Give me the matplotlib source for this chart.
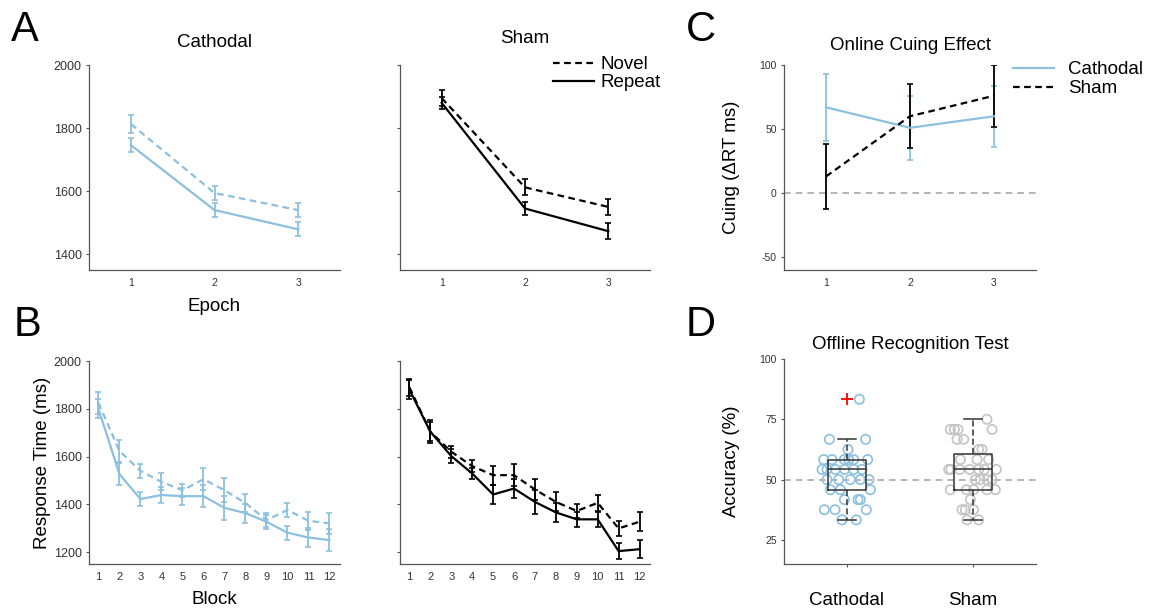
import matplotlib.pyplot as plt
from matplotlib.lines import Line2D

plt.rcParams['font.family'] = ['Liberation Sans', 'DejaVu Sans']
plt.rcParams['axes.unicode_minus'] = False

blue = '#8cc0de'
grey_pt = '#c4c4c4'
ref_grey = '#a8a8a8'
dash = (0, (3, 2))

# Panel A: epoch means (ms) and error
epochs = [1, 2, 3]
cath_epoch_novel = [1813, 1594, 1540]
cath_epoch_novel_err = [28, 22, 22]
cath_epoch_repeat = [1746, 1540, 1479]
cath_epoch_repeat_err = [22, 22, 22]
sham_epoch_novel = [1895, 1612, 1550]
sham_epoch_novel_err = [25, 25, 25]
sham_epoch_repeat = [1880, 1545, 1473]
sham_epoch_repeat_err = [20, 22, 25]

# Panel B: block means (ms) and error
blocks = list(range(1, 13))
cath_block_novel = [1825, 1623, 1540, 1494, 1459, 1505, 1459, 1405, 1334, 1376, 1331, 1320]
cath_block_novel_err = [45, 45, 30, 35, 28, 45, 50, 38, 28, 30, 38, 45]
cath_block_repeat = [1800, 1526, 1422, 1439, 1434, 1434, 1385, 1363, 1327, 1281, 1261, 1250]
cath_block_repeat_err = [40, 45, 30, 35, 35, 45, 50, 40, 30, 30, 40, 45]
sham_block_novel = [1890, 1704, 1620, 1560, 1522, 1522, 1462, 1410, 1372, 1406, 1299, 1327]
sham_block_novel_err = [35, 40, 25, 25, 40, 45, 45, 40, 30, 35, 30, 40]
sham_block_repeat = [1880, 1704, 1602, 1529, 1441, 1466, 1410, 1366, 1337, 1337, 1204, 1212]
sham_block_repeat_err = [40, 48, 28, 25, 40, 40, 50, 40, 30, 30, 35, 38]

# Panel C: cuing effect (ms)
cath_cue = [67, 51, 60]
cath_cue_err = [26, 25, 24]
sham_cue = [13, 60, 76]
sham_cue_err = [25, 25, 24]

# Panel D: recognition accuracy (%) per subject, with horizontal jitter
cath_acc = [83.3, 66.7, 66.7, 62.5,
            58.3, 58.3, 58.3, 58.3, 58.3, 58.3,
            54.2, 54.2, 54.2, 54.2, 54.2, 54.2,
            50, 50, 50, 50, 50,
            45.8, 45.8, 45.8, 41.7, 41.7, 41.7,
            37.5, 37.5, 37.5, 33.3, 33.3]
cath_jitter = [0.098, -0.14, 0.148, 0.008,
               -0.185, -0.119, -0.021, 0.013, 0.053, 0.164,
               -0.198, -0.159, -0.093, -0.019, 0.053, 0.119,
               -0.159, -0.066, 0.026, 0.106, 0.175,
               -0.132, -0.053, 0.185, -0.021, 0.087, 0.106,
               -0.18, -0.095, 0.153, -0.04, 0.074]
sham_acc = [75, 70.8, 70.8, 70.8, 70.8, 66.7, 66.7, 62.5, 62.5,
            58.3, 58.3, 58.3,
            54.2, 54.2, 54.2, 54.2, 54.2, 54.2, 54.2,
            50, 50, 50, 50,
            45.8, 45.8, 45.8, 45.8, 45.8,
            41.7, 37.5, 37.5, 37.5, 33.3, 33.3]
sham_jitter = [0.111, -0.18, -0.148, -0.119, 0.151, -0.127, -0.074, 0.045, 0.071,
               -0.1, 0.032, 0.124,
               -0.193, -0.175, -0.106, -0.026, 0.045, 0.09, 0.185,
               0.019, 0.058, 0.111, 0.151,
               -0.18, -0.053, 0.005, 0.111, 0.177,
               -0.021, -0.087, -0.061, 0.005, -0.048, 0.045]
box_stats = [
    dict(label='Cathodal', med=54.2, q1=45.8, q3=58.3, whislo=33.3, whishi=66.7, fliers=[83.3]),
    dict(label='Sham', med=54.2, q1=45.8, q3=60.5, whislo=33.3, whishi=75, fliers=[]),
]

W, H = 1151, 609
fig = plt.figure(figsize=(W / 100, H / 100), dpi=100)


def add_ax(left, top, right, bottom):
    return fig.add_axes([left / W, 1 - bottom / H, (right - left) / W, (bottom - top) / H])


def style(ax, ylab_size=9, xlab_size=7.5, xtick_len=0):
    for s in ['top', 'right']:
        ax.spines[s].set_visible(False)
    for s in ['left', 'bottom']:
        ax.spines[s].set_color('#555555')
        ax.spines[s].set_linewidth(0.9)
    ax.tick_params(axis='y', direction='out', length=2.2, width=0.8, color='#555555',
                   labelsize=ylab_size, labelcolor='#333333', pad=3)
    ax.tick_params(axis='x', direction='out', length=xtick_len, width=0.8, color='#555555',
                   labelsize=xlab_size, labelcolor='#333333', pad=6)


def eb(ax, x, y, e, color, ls):
    ax.errorbar(x, y, yerr=e, color=color, lw=1.6, ls=ls, elinewidth=1.3,
                capsize=2, capthick=1.2)


# ---- A
axA1 = add_ax(89, 65, 340, 270)
axA2 = add_ax(400, 65, 650, 270)
eb(axA1, epochs, cath_epoch_novel, cath_epoch_novel_err, blue, dash)
eb(axA1, epochs, cath_epoch_repeat, cath_epoch_repeat_err, blue, '-')
eb(axA2, epochs, sham_epoch_novel, sham_epoch_novel_err, 'k', dash)
eb(axA2, epochs, sham_epoch_repeat, sham_epoch_repeat_err, 'k', '-')
for ax in [axA1, axA2]:
    ax.set_xlim(0.5, 3.5)
    ax.set_ylim(1350, 2000)
    ax.set_xticks(epochs)
    ax.set_yticks([1400, 1600, 1800, 2000])
    style(ax)
axA2.set_yticklabels([])
axA1.set_title('Cathodal', fontsize=13.5, pad=13)
axA2.set_title('Sham', fontsize=13.5, pad=16)
axA1.set_xlabel('Epoch', fontsize=13.5, labelpad=7)
handles = [Line2D([], [], color='k', lw=1.6, ls=dash), Line2D([], [], color='k', lw=1.6)]
axA2.legend(handles, ['Novel', 'Repeat'], loc='upper left', bbox_to_anchor=(553 / W, 1 - 56 / H),
            bbox_transform=fig.transFigure, frameon=False, fontsize=13.5, borderpad=0,
            handlelength=2.2, handletextpad=0.35, labelspacing=0.05, borderaxespad=0)

# ---- B
axB1 = add_ax(89, 361, 340, 564)
axB2 = add_ax(400, 361, 650, 564)
eb(axB1, blocks, cath_block_novel, cath_block_novel_err, blue, dash)
eb(axB1, blocks, cath_block_repeat, cath_block_repeat_err, blue, '-')
eb(axB2, blocks, sham_block_novel, sham_block_novel_err, 'k', dash)
eb(axB2, blocks, sham_block_repeat, sham_block_repeat_err, 'k', '-')
for ax in [axB1, axB2]:
    ax.set_xlim(0.55, 12.5)
    ax.set_ylim(1150, 2000)
    ax.set_xticks(blocks)
    ax.set_yticks([1200, 1400, 1600, 1800, 2000])
    style(ax, xlab_size=8)
axB2.set_yticklabels([])
axB1.set_xlabel('Block', fontsize=13.5, labelpad=6)
axB1.set_ylabel('Response Time (ms)', fontsize=13.5, labelpad=2)

# ---- C
axC = add_ax(784, 65, 1036, 270)
axC.plot([0.5, 3.5], [0, 0], color=ref_grey, lw=1.2, ls=(0, (4, 3)))
eb(axC, epochs, cath_cue, cath_cue_err, blue, '-')
eb(axC, epochs, sham_cue, sham_cue_err, 'k', dash)
axC.set_xlim(0.5, 3.5)
axC.set_ylim(-60, 100)
axC.set_xticks(epochs)
axC.set_yticks([-50, 0, 50, 100])
style(axC, ylab_size=7.5)
axC.set_title('Online Cuing Effect', fontsize=13.5, pad=11)
axC.set_ylabel('Cuing (\u0394RT ms)', fontsize=13.5, labelpad=14)
handles = [Line2D([], [], color=blue, lw=1.6), Line2D([], [], color='k', lw=1.6, ls=dash)]
axC.legend(handles, ['Cathodal', 'Sham'], loc='upper left', bbox_to_anchor=(1013 / W, 1 - 61 / H),
           bbox_transform=fig.transFigure, frameon=False, fontsize=13.5, borderpad=0,
           handlelength=2.2, handletextpad=0.75, labelspacing=0.1, borderaxespad=0)

# ---- D
axD = add_ax(784, 359, 1036, 564)
axD.plot([0.5, 2.5], [50, 50], color=ref_grey, lw=1.2, ls=(0, (4, 3)), zorder=1)
axD.scatter([1 + j for j in cath_jitter], cath_acc, s=45, facecolors='none',
            edgecolors=blue, linewidths=1.2, zorder=2)
axD.scatter([2 + j for j in sham_jitter], sham_acc, s=45, facecolors='none',
            edgecolors=grey_pt, linewidths=1.2, zorder=2)
axD.bxp(box_stats, positions=[1, 2], widths=0.3, showfliers=True,
        boxprops=dict(color='#333333', lw=1.1),
        whiskerprops=dict(color='#333333', lw=1.1, ls=(0, (4, 2))),
        capprops=dict(color='#333333', lw=1.1),
        medianprops=dict(color='#333333', lw=1.1),
        flierprops=dict(marker='+', markeredgecolor='red', markersize=9, markeredgewidth=1.3))
axD.set_xlim(0.5, 2.5)
axD.set_ylim(15, 100)
axD.set_yticks([25, 50, 75, 100])
style(axD, ylab_size=7.5, xtick_len=2.2)
axD.tick_params(axis='x', labelsize=13.5, pad=18, labelcolor='k')
axD.set_title('Offline Recognition Test', fontsize=13.5, pad=7)
axD.set_ylabel('Accuracy (%)', fontsize=13.5, labelpad=14)

# panel letters
for letter, x, y in [('A', 11, 10), ('B', 14, 305), ('C', 686, 10), ('D', 686, 305)]:
    fig.text(x / W, 1 - y / H, letter, fontsize=30, va='top', ha='left')

fig.savefig('out.png', dpi=100)
